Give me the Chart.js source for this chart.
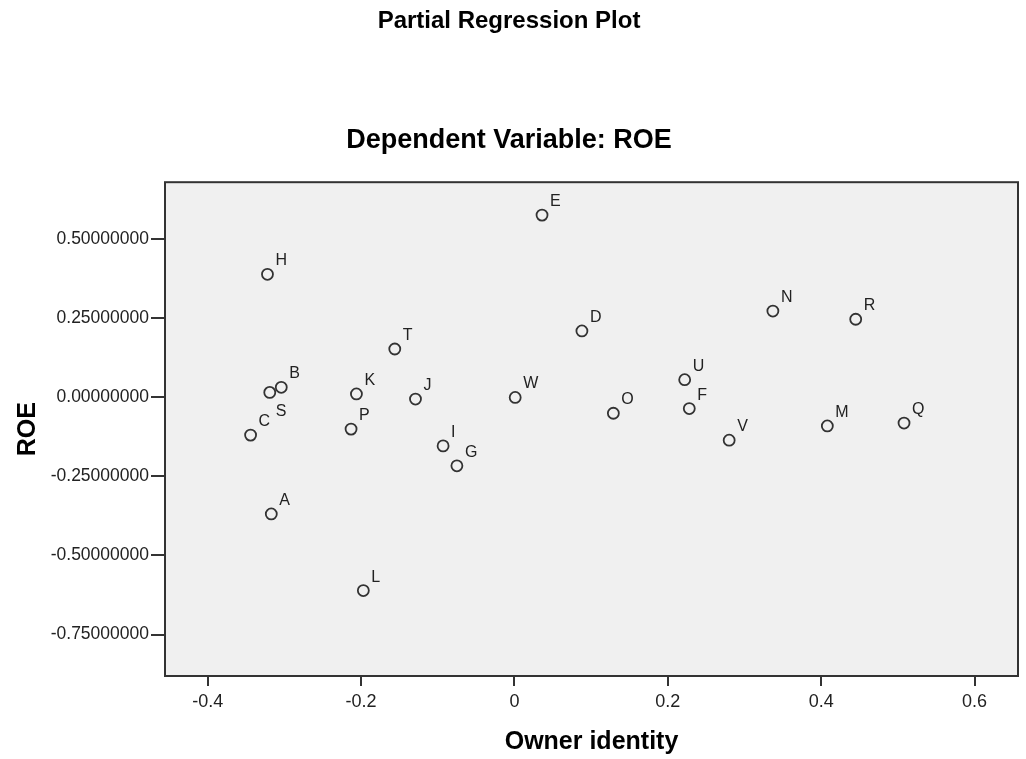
<!DOCTYPE html>
<html>
<head>
<meta charset="utf-8">
<script src="https://cdn.jsdelivr.net/npm/chart.js@4/dist/chart.umd.min.js"></script>
<style>
  html, body { margin: 0; padding: 0; background: #fff; }
  canvas { display: block; }
</style>
</head>
<body>
<canvas id="chart" width="1026" height="759"></canvas>
<script>
// Case labels and partial regression residuals
const names = ['A', 'B', 'C', 'D', 'E', 'F', 'G', 'H', 'I', 'J', 'K', 'L',
               'M', 'N', 'O', 'P', 'Q', 'R', 'S', 'T', 'U', 'V', 'W'];
const ownerIdentity = [-0.317, -0.304, -0.344, 0.088, 0.036, 0.228, -0.075, -0.322, -0.093, -0.129, -0.206, -0.197,
                       0.408, 0.337, 0.129, -0.213, 0.508, 0.445, -0.319, -0.156, 0.222, 0.280, 0.001];
const roe = [-0.369, 0.031, -0.120, 0.209, 0.575, -0.036, -0.217, 0.388, -0.154, -0.006, 0.010, -0.611,
             -0.091, 0.272, -0.051, -0.101, -0.082, 0.246, 0.015, 0.152, 0.055, -0.136, -0.001];

const xTicks = [-0.4, -0.2, 0, 0.2, 0.4, 0.6];
const yTicks = [-0.75, -0.5, -0.25, 0, 0.25, 0.5];

const INK = '#222';
const FONT = 'Arial, "Liberation Sans", sans-serif';

const points = names.map((n, i) => ({ x: ownerIdentity[i], y: roe[i], name: n }));

// labels go up-right of the marker, except where SPSS moved them below
const belowLabels = ['S'];

const frameAndLabels = {
  id: 'frameAndLabels',
  beforeDraw(chart) {
    const { ctx, chartArea: a } = chart;
    ctx.save();
    ctx.fillStyle = '#f0f0f0';
    ctx.fillRect(a.left, a.top, a.right - a.left, a.bottom - a.top);
    ctx.restore();
  },
  afterDatasetsDraw(chart) {
    const { ctx } = chart;
    const meta = chart.getDatasetMeta(0);
    ctx.save();
    ctx.fillStyle = INK;
    ctx.font = `16px ${FONT}`;
    ctx.textBaseline = 'alphabetic';
    meta.data.forEach((el, i) => {
      const name = points[i].name;
      if (belowLabels.includes(name)) {
        ctx.fillText(name, el.x + 6, el.y + 24);
      } else {
        ctx.fillText(name, el.x + 8, el.y - 9);
      }
    });
    ctx.restore();
  },
  afterDraw(chart) {
    const { ctx, chartArea: a } = chart;
    ctx.save();
    ctx.strokeStyle = '#333';
    ctx.lineWidth = 2;
    ctx.strokeRect(a.left, a.top, a.right - a.left, a.bottom - a.top);
    ctx.restore();
  },
};

new Chart(document.getElementById('chart').getContext('2d'), {
  type: 'scatter',
  data: {
    datasets: [{
      data: points,
      pointStyle: 'circle',
      pointRadius: 5.5,
      pointHoverRadius: 5.5,
      borderWidth: 1.8,
      borderColor: '#333',
      backgroundColor: 'rgba(0,0,0,0)',
    }],
  },
  options: {
    responsive: false,
    animation: false,
    layout: { padding: { left: 0, right: 8, top: 0, bottom: 0 } },
    plugins: {
      legend: { display: false },
      tooltip: { enabled: false },
      title: {
        display: true,
        text: 'Partial Regression Plot',
        color: '#000',
        font: { family: FONT, size: 24, weight: 'bold' },
        padding: { top: 7, bottom: 0 },
      },
      subtitle: {
        display: true,
        text: 'Dependent Variable: ROE',
        color: '#000',
        font: { family: FONT, size: 27, weight: 'bold' },
        padding: { top: 89, bottom: 25 },
      },
    },
    scales: {
      x: {
        type: 'linear',
        min: -0.4556,
        max: 0.6566,
        afterBuildTicks: (scale) => { scale.ticks = xTicks.map(v => ({ value: v })); },
        afterFit: (scale) => { scale.height = 83; },
        grid: { drawOnChartArea: false, drawTicks: true, tickLength: 10, color: '#333', lineWidth: 2 },
        border: { display: false },
        ticks: {
          autoSkip: false,
          maxRotation: 0,
          padding: 5,
          color: INK,
          font: { family: FONT, size: 18 },
          callback: (v) => String(v),
        },
        title: {
          display: true,
          text: 'Owner identity',
          color: '#000',
          font: { family: FONT, size: 25, weight: 'bold' },
          padding: { top: 0, bottom: 2 },
        },
      },
      y: {
        type: 'linear',
        min: -0.881,
        max: 0.679,
        afterBuildTicks: (scale) => { scale.ticks = yTicks.map(v => ({ value: v })); },
        afterFit: (scale) => { scale.width = 165; },
        grid: { drawOnChartArea: false, drawTicks: true, tickLength: 14, color: '#333', lineWidth: 2 },
        border: { display: false },
        ticks: {
          autoSkip: false,
          padding: 2,
          color: INK,
          font: { family: FONT, size: 17.5 },
          callback: (v) => Number(v).toFixed(8),
        },
        title: {
          display: true,
          text: 'ROE',
          color: '#000',
          font: { family: FONT, size: 25, weight: 'bold' },
          padding: { top: 13, bottom: 0 },
        },
      },
    },
  },
  plugins: [frameAndLabels],
});
</script>
</body>
</html>
